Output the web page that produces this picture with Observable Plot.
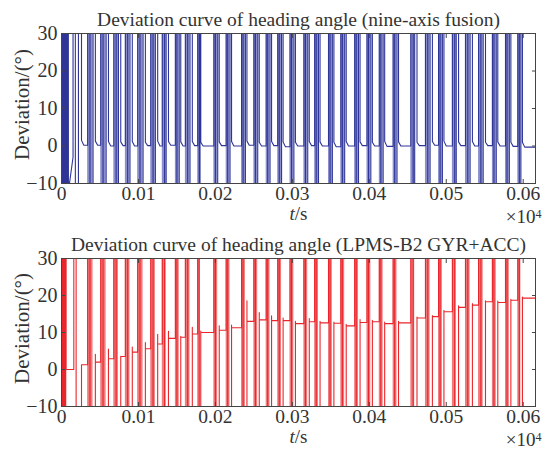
<!DOCTYPE html>
<html><head><meta charset="utf-8">
<script src="https://cdn.jsdelivr.net/npm/d3@7"></script>
<script src="https://cdn.jsdelivr.net/npm/@observablehq/plot@0.6"></script>
<style>
body{margin:0;background:#fff;}
#chart{width:544px;height:452px;overflow:hidden}
#chart svg{display:block}
</style></head><body><div id="chart"></div>
<script>
// ---------- shared axis data ----------
const xTicks = [0, 100, 200, 300, 400, 500, 600];            // seconds
const xTickLabels = ["0", "0.01", "0.02", "0.03", "0.04", "0.05", "0.06"]; // ×10^4 s
const yTicks = [-10, 0, 10, 20, 30];
const titles = ["Deviation curve of heading angle (nine-axis fusion)",
                "Deviation curve of heading angle (LPMS-B2 GYR+ACC)"];

// ---------- top: nine-axis fusion ----------
const navInitT = [0, 0.5, 1, 1.5, 2, 2.5, 3, 3.5, 4, 4.5, 5, 5.5, 6, 6.5, 7, 7.5, 8, 8.5, 9, 15, 15, 18, 18, 22, 22, 26, 26];
const navInitV = [-5, 200, -200, 200, -200, 200, -200, 200, -200, 200, -200, 200, -200, 200, -200, 200, -200, 200, -12, -3, 200, 200, -200, -200, 200, 200, 1.5];
const navStart = [34, 51, 68, 83, 99, 116, 131, 148, 161, 177, 198, 214, 234, 250, 266, 281, 297, 315, 329, 347, 363, 381, 397, 413, 431, 454, 473, 490, 508, 525, 542, 560, 577, 593];
const navMid1  = [37, 54, 71, 86, 102, 119, 134, 150, 164, 179, 200, 216, 236, 252, 268, 283, 299, 317, 331, 349, 365, 383, 399, 415, 433, 457, 476, 492, 511, 528, 545, 562, 579, 595];
const navMid2  = [41, 58, 74, 89, 106, 122, 136, 153, 167, 180, 203, 219, 239, 255, 271, 286, 302, 320, 334, 352, 368, 386, 402, 418, 436, 459, 479, 495, 513, 531, 548, 565, 582, 597];
const navEnd   = [44, 61, 77, 92, 109, 125, 139, 155, 170, 181, 205, 221, 241, 257, 273, 288, 304, 322, 336, 354, 370, 388, 404, 420, 438, 462, 482, 497, 516, 534, 551, 567, 584, 599];
const navAfter = [1.3, 1.2, 1.1, 1.2, 1.0, 1.3, 1.2, 1.1, 1.2, 1.0, 1.1, 1.2, 1.3, 1.0, 1.2, 1.1, 1.0, 1.2, 1.1, 1.0, 1.2, 1.1, 1.0, 1.2, 1.1, 1.0, 1.2, 1.3, 1.1, 1.2, 1.0, 1.1, 1.0, 1.0];
const navSettle= [0.2, 0.0, 0.1, 0.0, 0.1, 0.0, 0.2, 0.0, 0.1, 0.0, 0.1, 0.0, 0.2, 0.0, 0.1, -0.2, 0.0, 0.1, 0.0, -0.2, 0.0, 0.1, 0.0, -0.1, 0.0, 0.1, 0.2, 0.0, 0.1, 0.0, 0.1, 0.0, -0.1, -0.3];

// ---------- bottom: LPMS-B2 GYR+ACC ----------
const accInitT = [0, 0.5, 1, 1.5, 2, 2.5, 3, 3.5, 4, 4.5, 5, 6, 6, 10, 10, 16, 16, 19, 19, 23, 23, 26, 26];
const accInitV = [-3, 200, -200, 200, -200, 200, -200, 200, -200, 200, -200, 200, 0, 0, 0, 0, 200, 200, -200, -200, -200, -200, 1.3];
const accStart = [34, 51, 68, 83, 99, 116, 131, 148, 161, 177, 198, 214, 234, 250, 266, 281, 297, 315, 329, 347, 363, 381, 397, 413, 431, 454, 473, 490, 508, 525, 542, 560, 577, 593];
const accMid1  = [37, 54, 71, 86, 102, 119, 134, 150, 164, 179, 200, 216, 236, 252, 268, 283, 299, 317, 331, 349, 365, 383, 399, 415, 433, 457, 476, 492, 511, 528, 545, 562, 579, 595];
const accMid2  = [41, 58, 74, 89, 106, 122, 136, 153, 167, 180, 203, 219, 239, 255, 271, 286, 302, 320, 334, 352, 368, 386, 402, 418, 436, 459, 479, 495, 513, 531, 548, 565, 582, 597];
const accEnd   = [44, 61, 77, 92, 109, 125, 139, 155, 170, 181, 205, 221, 241, 257, 273, 288, 304, 322, 336, 354, 370, 388, 404, 420, 438, 462, 482, 497, 516, 534, 551, 567, 584, 599];
const accPeak  = [4.1, 5.5, 3.6, 6.1, 7.3, 9.5, 10.3, 9.0, 11.4, 10.4, 11.8, 12.0, 18.6, 15.4, 14.5, 13.9, 13.0, 13.8, 13.0, 12.8, 12.2, 13.5, 13.3, 12.8, 13.0, 14.2, 14.6, 16.0, 17.2, 17.8, 18.6, 18.5, 19.0, 19.6];
const accLevel = [2.0, 2.9, 3.5, 4.7, 5.6, 6.9, 8.4, 8.7, 9.6, 10.0, 10.6, 11.3, 13.0, 13.4, 13.2, 13.2, 12.4, 12.9, 12.6, 12.5, 11.8, 12.7, 12.9, 12.4, 12.6, 13.9, 14.3, 15.6, 16.8, 17.4, 18.3, 18.1, 18.7, 19.3];

const T_END = 616;
const BIG = 200;

function buildTop() {
  const pts = navInitT.map((t, i) => ({t, v: navInitV[i]}));
  pts.push({t: 29, v: 0.2});
  let prev = 0.2;
  navStart.forEach((s, i) => {
    pts.push({t: s, v: prev}, {t: s, v: BIG}, {t: navMid1[i], v: BIG}, {t: navMid1[i], v: -BIG},
             {t: navMid2[i], v: -BIG}, {t: navMid2[i], v: BIG}, {t: navEnd[i], v: BIG},
             {t: navEnd[i], v: navAfter[i]}, {t: navEnd[i] + 3, v: navSettle[i]});
    prev = navSettle[i];
  });
  pts.push({t: T_END, v: prev});
  return pts;
}
function buildBottom() {
  const pts = accInitT.map((t, i) => ({t, v: accInitV[i]}));
  let prev = 1.3;
  accStart.forEach((s, i) => {
    pts.push({t: s, v: prev}, {t: s, v: BIG}, {t: accMid1[i], v: BIG}, {t: accMid1[i], v: -BIG},
             {t: accEnd[i], v: -BIG}, {t: accEnd[i], v: accPeak[i]}, {t: accEnd[i], v: accLevel[i]});
    prev = accLevel[i];
  });
  pts.push({t: T_END, v: prev});
  return pts;
}
const navBands = navStart.map((s, i) => ({a: s, b: navMid2[i]}));
const accBands = accStart.map((s, i) => ({a: s, b: accMid2[i]}));

const FONT = "'Liberation Serif', 'Times New Roman', serif";
const INK = "#333";
const FRAME = "#444";

function panel(data, bands, color, band, title, mTop, mBottom) {
  const p = Plot.plot({
    width: 544, height: 226,
    marginLeft: 61, marginRight: 9, marginTop: mTop, marginBottom: mBottom,
    style: {fontFamily: FONT, fontSize: "19px", color: INK, background: "#fff", overflow: "visible"},
    x: {domain: [0, T_END], label: null},
    y: {domain: [-10, 30], label: null},
    marks: [
      Plot.rect(bands, {x1: "a", x2: "b", fill: band}),
      Plot.line(data, {x: "t", y: "v", stroke: color, strokeWidth: 1.1, clip: true}),
      Plot.axisX(xTicks, {anchor: "bottom", label: null, tickSize: 0, tickPadding: 3, tickFormat: (d, i) => xTickLabels[i], fontSize: 19.5}),
      Plot.axisX(xTicks, {anchor: "bottom", label: null, tickSize: -4, text: null, stroke: FRAME}),
      Plot.axisX(xTicks, {anchor: "top", label: null, tickSize: -4, text: null, stroke: FRAME}),
      Plot.axisY(yTicks, {anchor: "left", label: null, tickSize: 0, tickPadding: 4, fontSize: 20}),
      Plot.axisY(yTicks, {anchor: "left", label: null, tickSize: -4, text: null, stroke: FRAME}),
      Plot.axisY(yTicks, {anchor: "right", label: null, tickSize: -4, text: null, stroke: FRAME}),
      Plot.frame({stroke: FRAME, strokeWidth: 1}),
      Plot.text([title], {frameAnchor: "top", dy: -8, lineAnchor: "bottom", fontSize: 19.5, fill: INK}),
      Plot.text(["Deviation/(°)"], {frameAnchor: "left", textAnchor: "middle", rotate: -90, dx: -39, dy: -4, fontSize: 21, fill: INK}),
      Plot.text(["t/s"], {frameAnchor: "bottom", dy: 36, fontSize: 19, fill: INK, className: "xlabel"}),
      Plot.text(["x10^4"], {frameAnchor: "bottom-right", dx: 6, dy: 39.5, textAnchor: "end", fontSize: 19, fill: INK, className: "xexp"})
    ]
  });
  d3.select(p).selectAll(".xlabel text").each(function() {
    this.textContent = "";
    const s = d3.select(this);
    s.append("tspan").attr("font-style", "italic").text("t");
    s.append("tspan").text("/s");
  });
  d3.select(p).selectAll(".xexp text").each(function() {
    this.textContent = "";
    const s = d3.select(this);
    s.append("tspan").text("\u00d710");
    s.append("tspan").attr("font-size", "12px").attr("dy", "-0.4em").text("4");
  });
  return p;
}

const chart = document.getElementById("chart");
chart.append(panel(buildTop(), navBands, "#2f3596", "#8a8fcc", titles[0], 33, 43));
chart.append(panel(buildBottom(), accBands, "#e8262b", "#f17a7c", titles[1], 32, 46));
</script>
</body></html>
